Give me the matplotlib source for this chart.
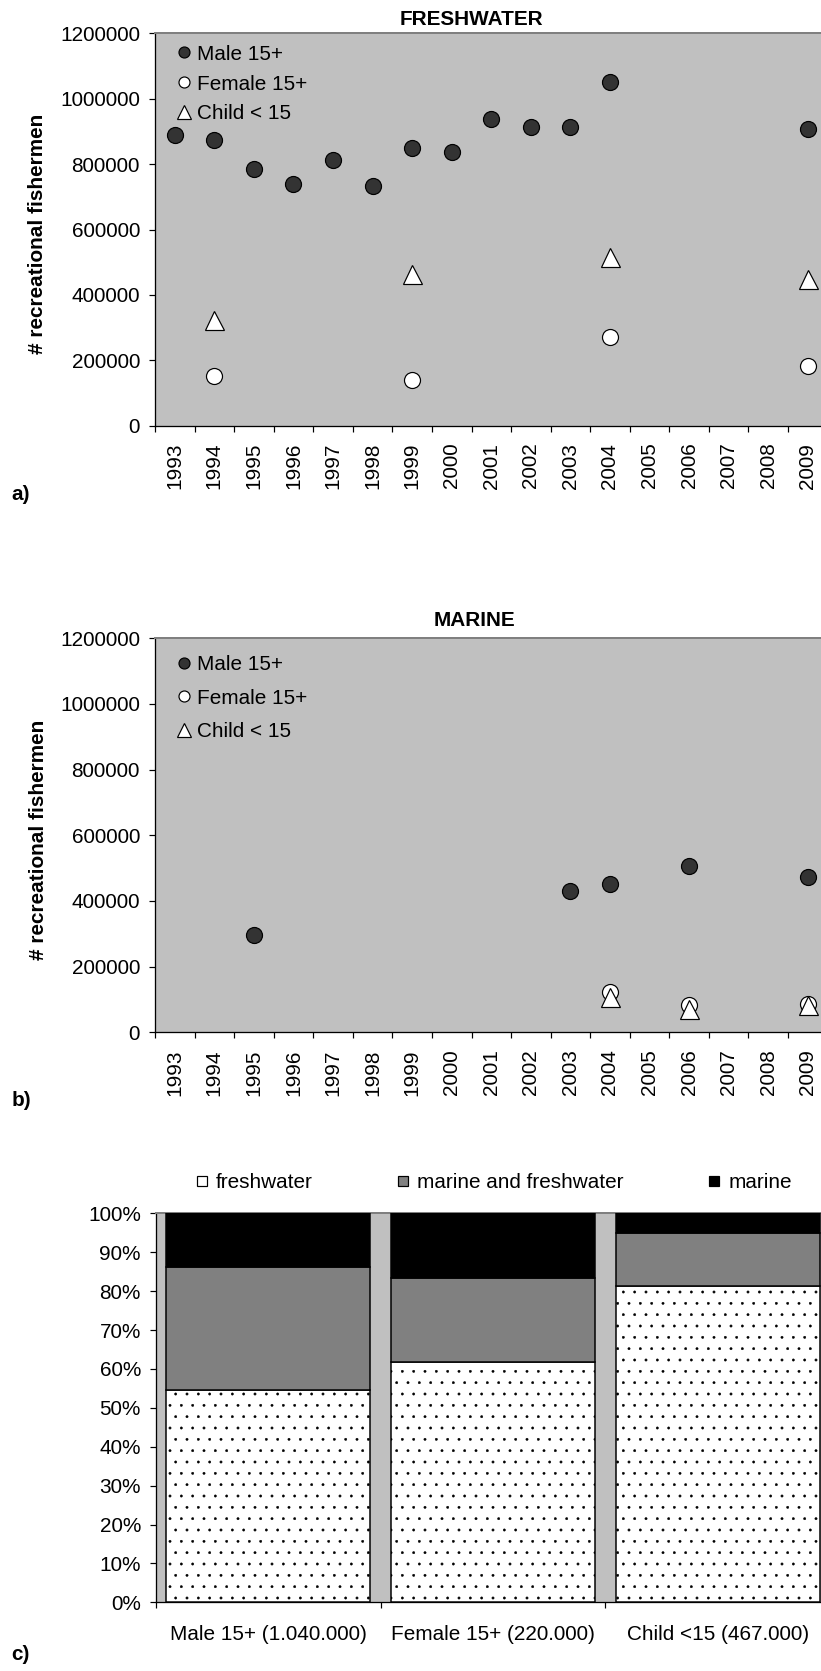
import numpy as np
import matplotlib
matplotlib.use("Agg")
import matplotlib.pyplot as plt
from matplotlib.lines import Line2D

nan = np.nan

# ---------------- data ----------------
years = [str(y) for y in range(1993, 2010)]

fresh_male = [888000, 873000, 784000, 739000, 814000, 734000, 848000, 838000,
              938000, 912000, 912000, 1052000, nan, nan, nan, nan, 907000]
fresh_female = [nan, 153000, nan, nan, nan, nan, 139000, nan,
                nan, nan, nan, 271000, nan, nan, nan, nan, 184000]
fresh_child = [nan, 323000, nan, nan, nan, nan, 463000, nan,
               nan, nan, nan, 517000, nan, nan, nan, nan, 449000]

marine_male = [nan, nan, 295000, nan, nan, nan, nan, nan,
               nan, nan, 429000, 453000, nan, 508000, nan, nan, 473000]
marine_female = [nan, nan, nan, nan, nan, nan, nan, nan,
                 nan, nan, nan, 124000, nan, 84000, nan, nan, 86000]
marine_child = [nan, nan, nan, nan, nan, nan, nan, nan,
                nan, nan, nan, 107000, nan, 72000, nan, nan, 84000]

series_labels = ["Male 15+", "Female 15+", "Child < 15"]
ytick_values = [0, 200000, 400000, 600000, 800000, 1000000, 1200000]

groups = ["Male 15+ (1.040.000)", "Female 15+ (220.000)", "Child <15 (467.000)"]
pct_fresh = [54.7, 61.8, 81.4]
pct_both = [31.5, 21.5, 13.6]
pct_marine = [13.8, 16.7, 5.0]
stack_labels = ["freshwater", "marine and freshwater", "marine"]
pct_ticks = list(range(0, 101, 10))

# ---------------- layout ----------------
DPI = 136
W, H = 821, 1671
P = 72.0 / DPI          # points per pixel
FS = 20.8 * P           # font size (pt)

plt.rcParams['font.family'] = ['Liberation Sans', 'DejaVu Sans']
plt.rcParams['hatch.color'] = 'black'
plt.rcParams['hatch.linewidth'] = 0.25

fig = plt.figure(figsize=(W / DPI, H / DPI), dpi=DPI, facecolor='white')


def rect(l, t, r, b):
    return [l / W, 1 - b / H, (r - l) / W, (b - t) / H]


def fx(x):
    return x / W


def fy(y):
    return 1 - y / H


BG = '#C0C0C0'


def style_axes(ax):
    ax.set_facecolor(BG)
    ax.spines['right'].set_visible(False)
    ax.spines['top'].set_color('#808080')
    ax.spines['top'].set_linewidth(2 * P)
    ax.spines['left'].set_color('black')
    ax.spines['left'].set_linewidth(1.3 * P)
    ax.spines['bottom'].set_color('black')
    ax.spines['bottom'].set_linewidth(1.3 * P)
    ax.tick_params(axis='y', which='major', length=6 * P, width=1.2 * P,
                   direction='out', pad=9 * P, labelsize=FS, colors='black')


def scatter_panel(ax, male, female, child, title, title_xy, ylabel_xy,
                  legend_xy, legend_spacing):
    style_axes(ax)
    x = np.arange(len(years))
    ax.plot(x, male, ls='none', marker='o', ms=16 * P, mfc='#333333',
            mec='black', mew=1.2 * P, zorder=3)
    ax.plot(x, female, ls='none', marker='o', ms=16 * P, mfc='white',
            mec='black', mew=1.2 * P, zorder=4)
    ax.plot(x, child, ls='none', marker='^', ms=19 * P, mfc='white',
            mec='black', mew=1.2 * P, zorder=5)
    ax.set_xlim(-0.5, len(years) - 0.5)
    ax.set_ylim(0, 1200000)
    ax.set_yticks(ytick_values)
    ax.set_yticklabels([str(v) for v in ytick_values])
    ax.set_xticks(np.arange(-0.5, len(years), 1.0))
    ax.set_xticklabels([])
    ax.set_xticks(x, minor=True)
    ax.set_xticklabels(years, minor=True, rotation=90, fontsize=FS)
    ax.tick_params(axis='x', which='major', length=6 * P, width=1.2 * P,
                   direction='out')
    ax.tick_params(axis='x', which='minor', length=0, pad=17 * P)
    fig.text(fx(title_xy[0]), fy(title_xy[1]), title, ha='center', va='center',
             fontsize=FS, fontweight='bold')
    fig.text(fx(ylabel_xy[0]), fy(ylabel_xy[1]), '# recreational fishermen',
             ha='center', va='center', rotation=90, fontsize=FS,
             fontweight='bold')
    handles = [
        Line2D([], [], ls='none', marker='o', ms=11 * P, mfc='#333333',
               mec='black', mew=1.2 * P),
        Line2D([], [], ls='none', marker='o', ms=11 * P, mfc='white',
               mec='black', mew=1.2 * P),
        Line2D([], [], ls='none', marker='^', ms=14 * P, mfc='white',
               mec='black', mew=1.2 * P),
    ]
    fig.legend(handles, series_labels, loc='center left',
               bbox_to_anchor=(fx(legend_xy[0]), fy(legend_xy[1])),
               frameon=False, fontsize=FS, handlelength=0.8,
               handletextpad=0.23, borderpad=0, borderaxespad=0,
               labelspacing=legend_spacing)


ax_a = fig.add_axes(rect(155, 33.3, 827.6, 425.7))
scatter_panel(ax_a, fresh_male, fresh_female, fresh_child, 'FRESHWATER',
              (471.5, 19.2), (38, 234), (175.7, 84), 0.52)

ax_b = fig.add_axes(rect(155, 638.3, 827.6, 1032.3))
scatter_panel(ax_b, marine_male, marine_female, marine_child, 'MARINE',
              (474.6, 620), (39, 840), (175.7, 698), 0.7)

# ---------------- panel c ----------------
ax_c = fig.add_axes(rect(156, 1213.3, 830, 1602.3))
style_axes(ax_c)
xc = np.arange(len(groups))
bw = 0.908
fresh = np.array(pct_fresh)
both = np.array(pct_both)
mar = np.array(pct_marine)
ax_c.bar(xc, fresh, width=bw, color='white', edgecolor='black',
         linewidth=1.5 * P, hatch='..', zorder=3)
ax_c.bar(xc, both, width=bw, bottom=fresh, color='#808080', edgecolor='black',
         linewidth=1.5 * P, zorder=3)
ax_c.bar(xc, mar, width=bw, bottom=fresh + both, color='black',
         edgecolor='black', linewidth=1.5 * P, zorder=3)
ax_c.set_xlim(-0.5, len(groups) - 0.5)
ax_c.set_ylim(0, 100)
ax_c.set_yticks(pct_ticks)
ax_c.set_yticklabels([f"{v}%" for v in pct_ticks])
ax_c.set_xticks(np.arange(-0.5, len(groups), 1.0))
ax_c.set_xticklabels([])
ax_c.set_xticks(xc, minor=True)
ax_c.set_xticklabels(groups, minor=True, fontsize=FS)
ax_c.tick_params(axis='x', which='major', length=6 * P, width=1.2 * P,
                 direction='out')
ax_c.tick_params(axis='x', which='minor', length=0, pad=23 * P)

handles_c = [
    Line2D([], [], ls='none', marker='s', ms=10 * P, mfc='white',
           mec='black', mew=1.2 * P),
    Line2D([], [], ls='none', marker='s', ms=10 * P, mfc='#808080',
           mec='black', mew=1.2 * P),
    Line2D([], [], ls='none', marker='s', ms=10 * P, mfc='black',
           mec='black', mew=1.2 * P),
]
fig.legend(handles_c, stack_labels, ncol=3, loc='center left',
           bbox_to_anchor=(fx(193.7), fy(1183)), frameon=False, fontsize=FS,
           handlelength=0.8, handletextpad=0.27, columnspacing=3.95,
           borderpad=0, borderaxespad=0)

# panel letters
for letter, ypx in [('a)', 494), ('b)', 1100), ('c)', 1655)]:
    fig.text(fx(11.5), fy(ypx), letter, ha='left', va='center', fontsize=FS,
             fontweight='bold')

fig.savefig('out.png', dpi=DPI, facecolor='white')
